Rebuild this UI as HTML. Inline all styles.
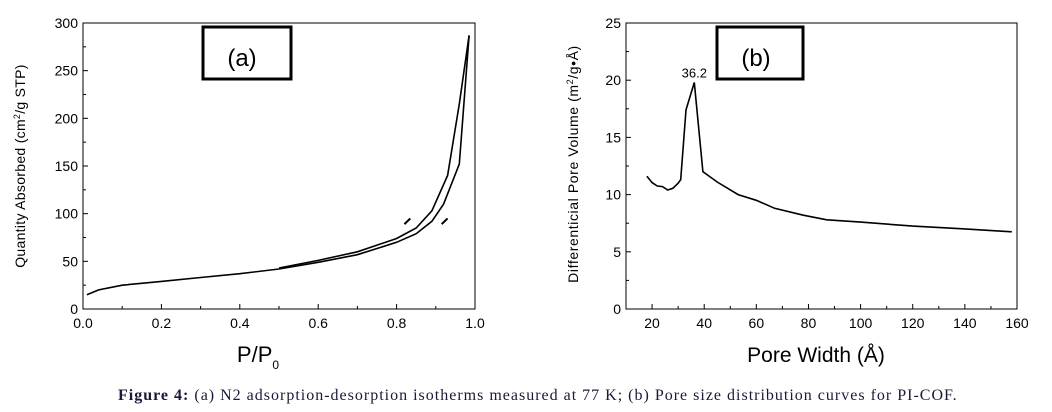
<!DOCTYPE html>
<html><head><meta charset="utf-8"><style>
body{margin:0;background:#fff;width:1052px;height:412px;overflow:hidden}
svg{position:absolute;left:0;top:0}
text{font-family:"Liberation Sans",Arial,sans-serif;fill:#000}
.cap{position:absolute;left:118px;top:387px;font-family:"Liberation Serif",serif;font-size:16px;letter-spacing:1px;color:#1a1a38;white-space:nowrap}
</style></head><body>
<svg id="s" width="1052" height="412" viewBox="0 0 1052 412"></svg>
<div class="cap"><b>Figure 4:</b> (a) N2 adsorption-desorption isotherms measured at 77 K; (b) Pore size distribution curves for PI-COF.</div>
<script>
const s=document.getElementById('s');let h='';
function ax(L,R,T,B,xt,xmin,xmax,yt,ymin,ymax,xminor,yminor){
 h+=`<rect x="${L}" y="${T}" width="${R-L}" height="${B-T}" fill="none" stroke="#000" stroke-width="1"/>`;
 const X=v=>L+(v-xmin)/(xmax-xmin)*(R-L),Y=v=>B-(v-ymin)/(ymax-ymin)*(B-T);
 xminor.forEach(v=>{h+=`<line x1="${X(v)}" x2="${X(v)}" y1="${B}" y2="${B-3}" stroke="#000"/>`});
 xt.forEach(v=>{h+=`<line x1="${X(v)}" x2="${X(v)}" y1="${B}" y2="${B-5}" stroke="#000"/><text x="${X(v)}" y="${B+19}" font-size="14" text-anchor="middle">${v.lab}</text>`});
 yminor.forEach(v=>{h+=`<line x1="${L}" x2="${L+3}" y1="${Y(v)}" y2="${Y(v)}" stroke="#000"/>`});
 yt.forEach(v=>{h+=`<line x1="${L}" x2="${L+5}" y1="${Y(v)}" y2="${Y(v)}" stroke="#000"/><text x="${L-5}" y="${Y(v)+5}" font-size="14" text-anchor="end">${v}</text>`});
 return [X,Y];
}
function lab(arr,f){return arr.map(v=>{const n=new Number(v);n.lab=f(v);return n})}
// (a)
let [X,Y]=ax(83,475,23,309,lab([0,.2,.4,.6,.8,1],v=>v.toFixed(1)),0,1,[0,50,100,150,200,250,300],0,300,[.1,.3,.5,.7,.9],[25,75,125,175,225,275]);
const ads=[[0.01,15],[0.04,20],[0.1,25],[0.2,29],[0.3,33],[0.4,37],[0.5,42],[0.6,49],[0.7,57],[0.8,70],[0.85,79],[0.89,92],[0.92,110],[0.96,152],[0.985,287]];
const des=[[0.985,287],[0.96,215],[0.93,140],[0.89,103],[0.85,85],[0.8,74],[0.7,60],[0.6,51],[0.5,43]];
const P=a=>'M'+a.map(p=>X(p[0]).toFixed(1)+','+Y(p[1]).toFixed(1)).join('L');
h+=`<path d="${P(ads)}" fill="none" stroke="#000" stroke-width="1.6"/><path d="${P(des)}" fill="none" stroke="#000" stroke-width="1.6"/>`;
h+=`<line x1="${X(.82)}" y1="${Y(89)}" x2="${X(.835)}" y2="${Y(95)}" stroke="#000" stroke-width="2"/><line x1="${X(.915)}" y1="${Y(89)}" x2="${X(.93)}" y2="${Y(95)}" stroke="#000" stroke-width="2"/>`;
h+=`<rect x="203" y="27" width="88" height="52" fill="none" stroke="#000" stroke-width="3"/><text x="242" y="66" font-size="24" text-anchor="middle" fill="#1a1a2a">(a)</text>`;
h+=`<text transform="translate(25,166) rotate(-90)" font-size="14" letter-spacing="0.3" text-anchor="middle">Quantity Absorbed (cm<tspan dy="-5" font-size="9">2</tspan><tspan dy="5">/g  STP)</tspan></text>`;
h+=`<text x="258" y="362" font-size="22" text-anchor="middle">P/P<tspan dy="7" font-size="12">0</tspan></text>`;
// (b)
[X,Y]=ax(626,1017,23,309,lab([20,40,60,80,100,120,140,160],v=>v),10,160,[0,5,10,15,20,25],0,25,[30,50,70,90,110,130,150],[2.5,7.5,12.5,17.5,22.5]);
const b=[[18,11.6],[20,11.05],[22,10.75],[24,10.7],[26,10.4],[28,10.55],[30,11],[31,11.3],[33,17.4],[36.2,19.8],[39.5,12],[45,11.1],[53,10],[60,9.5],[67,8.8],[78,8.2],[87,7.8],[100,7.6],[120,7.25],[140,7],[158,6.75]];
h+=`<path d="${P(b)}" fill="none" stroke="#000" stroke-width="1.6"/>`;
h+=`<text x="${X(36.2)}" y="${Y(19.8)-5}" font-size="13" text-anchor="middle">36.2</text>`;
h+=`<rect x="717" y="27" width="86" height="52" fill="none" stroke="#000" stroke-width="3"/><text x="756" y="66" font-size="24" text-anchor="middle" fill="#1a1a2a">(b)</text>`;
h+=`<text transform="translate(578,164) rotate(-90)" font-size="14" letter-spacing="0.6" text-anchor="middle">Differenticial Pore Volume (m<tspan dy="-5" font-size="9">2</tspan><tspan dy="5">/g•Å)</tspan></text>`;
h+=`<text x="816" y="362" font-size="21" text-anchor="middle">Pore Width (Å)</text>`;
s.innerHTML=h;
</script>
</body></html>
